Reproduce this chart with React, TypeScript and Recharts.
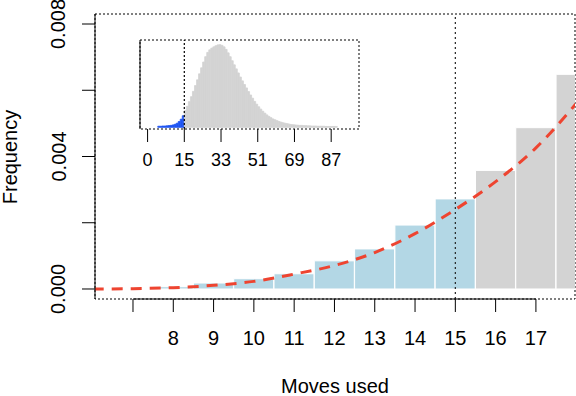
import React from 'react';
import {
  ComposedChart,
  Bar,
  Line,
  XAxis,
  YAxis,
  ReferenceLine,
  ReferenceArea,
  Cell,
} from 'recharts';

// ---- main plot: frequency of each number of moves (zoomed on the left tail)
const moves = [6, 7, 8, 9, 10, 11, 12, 13, 14, 15, 16, 17, 18];
const observedFreq = [0, 0, 0.00007, 0.00018, 0.00031, 0.00046, 0.00085, 0.00121, 0.00193, 0.00272, 0.00358, 0.00487, 0.00648];
const fittedFreq = [0, 0.00001, 0.00004, 0.00011, 0.00023, 0.00045, 0.00071, 0.0011, 0.00167, 0.0024, 0.00324, 0.00426, 0.0056];
const xTicks = [7, 8, 9, 10, 11, 12, 13, 14, 15, 16, 17];
const xTickLabels = ['', '8', '9', '10', '11', '12', '13', '14', '15', '16', '17'];
const yTicks = [0, 0.002, 0.004, 0.006, 0.008];
const yTickLabels = ['0.000', '', '0.004', '', '0.008'];
const cutoff = 15;

// ---- inset: whole distribution, one bin per move count (bins start at 2)
const insetFirstBin = 2;
const insetFreq = [
  0.0005, 0.0005, 0.0006, 0.0006, 0.0007, 0.0008, 0.0009, 0.0011, // 2-9
  0.0014, 0.0019, 0.0027, 0.0038, 0.0054, // 10-14
  0.0078, 0.0098, 0.012, 0.0143, 0.0168, 0.0195, 0.0222, 0.025, 0.0278, 0.0305, // 15-24
  0.033, 0.035, 0.0362, 0.037, 0.0376, 0.0381, 0.0385, 0.0386, 0.0383, 0.0376, // 25-34
  0.0364, 0.0348, 0.033, 0.0311, 0.0292, 0.0273, 0.0254, 0.0235, 0.0217, 0.02, // 35-44
  0.0184, 0.0167, 0.0151, 0.0136, 0.0121, 0.0108, 0.0096, 0.0085, 0.0075, 0.0066, // 45-54
  0.0058, 0.0051, 0.0045, 0.0039, 0.0035, 0.0031, 0.0027, 0.0024, 0.0021, 0.0019, // 55-64
  0.0017, 0.0015, 0.0013, 0.0012, 0.0011, 0.001, 0.0009, 0.0009, 0.0008, 0.0008, // 65-74
  0.0007, 0.0007, 0.0006, 0.0006, 0.0006, 0.0005, 0.0005, 0.0005, 0.0005, 0.0004, // 75-84
  0.0004, 0.0004, 0.0004, 0.0004, 0.0004, // 85-89
];
const insetTickPos = [-3, 15, 33, 51, 69, 87];
const insetTickLabels = ['0', '15', '33', '51', '69', '87'];
const insetYTicks = [0, 0.01, 0.02, 0.03, 0.04];

// domains (R style, a bit of room around the data)
const xMin = 6.057;
const xMax = 17.97;
const yMin = -0.000302;
const yMax = 0.008302;
const insetXMin = -6.72;
const insetXMax = 100.64;
const insetYMin = -0.00079;
const insetYMax = 0.0408;

const FONT = '"Liberation Sans", Arial, Helvetica, sans-serif';
const LIGHT_BLUE = '#B3D7E5';
const LIGHT_GRAY = '#D3D3D3';
const BLUE = '#1F55F2';
const RED = '#EE4430';

const mainData = moves.map((m, i) => ({ moves: m, observed: observedFreq[i], fitted: fittedFreq[i] }));
const insetData = insetFreq.map((f, i) => ({
  lower: insetFirstBin + i,
  mid: insetFirstBin + i + 0.5,
  freq: f,
}));

const MainXTick = ({ x, payload }: any) => {
  const idx = xTicks.indexOf(payload.value);
  const label = idx >= 0 ? xTickLabels[idx] : '';
  if (!label) return null;
  return (
    <text x={x} y={345} textAnchor="middle" fontSize={20} fontFamily={FONT} fill="#000">
      {label}
    </text>
  );
};

const MainYTick = ({ y, payload }: any) => {
  const idx = yTicks.indexOf(payload.value);
  const label = idx >= 0 ? yTickLabels[idx] : '';
  if (!label) return null;
  return (
    <text
      x={65.5}
      y={y}
      transform={`rotate(-90, 65.5, ${y})`}
      textAnchor="middle"
      fontSize={20}
      fontFamily={FONT}
      fill="#000"
    >
      {label}
    </text>
  );
};

const InsetXTick = ({ x, payload }: any) => {
  const idx = insetTickPos.indexOf(payload.value);
  return (
    <text x={x} y={166} textAnchor="middle" fontSize={18} fontFamily={FONT} fill="#000">
      {idx >= 0 ? insetTickLabels[idx] : ''}
    </text>
  );
};

const MainChart = () => (
  <ComposedChart width={576} height={396} data={mainData} margin={{ top: 14, right: 1, bottom: 0, left: 0 }}>
    <XAxis
      type="number"
      dataKey="moves"
      domain={[xMin, xMax]}
      allowDataOverflow
      ticks={xTicks}
      interval={0}
      height={97}
      tickSize={13}
      tickLine={{ stroke: '#000' }}
      axisLine={false}
      tick={<MainXTick />}
    />
    <YAxis
      type="number"
      domain={[yMin, yMax]}
      allowDataOverflow
      ticks={yTicks}
      interval={0}
      width={95}
      tickSize={13}
      tickLine={{ stroke: '#000' }}
      axisLine={{ stroke: '#000' }}
      tick={<MainYTick />}
    />
    <Bar dataKey="observed" barSize={40} stroke="#fff" strokeWidth={1} isAnimationActive={false}>
      {mainData.map((d) => (
        <Cell key={d.moves} fill={d.moves <= cutoff ? LIGHT_BLUE : LIGHT_GRAY} />
      ))}
    </Bar>
    <Line
      type="monotone"
      dataKey="fitted"
      stroke={RED}
      strokeWidth={3}
      strokeDasharray="11 8"
      dot={false}
      activeDot={false}
      isAnimationActive={false}
    />
    <ReferenceLine x={cutoff} stroke="#222" strokeWidth={1.2} strokeDasharray="2 3" />
    {/* R style x axis line, from first to last tick */}
    <ReferenceLine
      segment={[{ x: xTicks[0], y: yMin }, { x: xTicks[xTicks.length - 1], y: yMin }]}
      stroke="#000"
      ifOverflow="visible"
    />
    <ReferenceArea
      x1={xMin}
      x2={xMax}
      y1={yMin}
      y2={yMax}
      fill="none"
      fillOpacity={0}
      stroke="#000"
      strokeDasharray="2 2"
      ifOverflow="visible"
    />
  </ComposedChart>
);

const InsetChart = () => (
  <ComposedChart
    width={380}
    height={180}
    data={insetData}
    barCategoryGap={0}
    barGap={0}
    margin={{ top: 40, right: 21, bottom: 0, left: 0 }}
  >
    <XAxis
      type="number"
      dataKey="mid"
      domain={[insetXMin, insetXMax]}
      allowDataOverflow
      ticks={insetTickPos}
      interval={0}
      height={51}
      tickSize={13}
      tickLine={{ stroke: '#000' }}
      axisLine={false}
      tick={<InsetXTick />}
    />
    <YAxis
      type="number"
      domain={[insetYMin, insetYMax]}
      allowDataOverflow
      ticks={insetYTicks}
      interval={0}
      width={140}
      tickSize={13}
      tickLine={{ stroke: '#000' }}
      axisLine={{ stroke: '#000' }}
      tick={false}
    />
    <Bar dataKey="freq" isAnimationActive={false}>
      {insetData.map((d) => {
        const c = d.lower < cutoff ? BLUE : LIGHT_GRAY;
        return <Cell key={d.lower} fill={c} stroke={c} strokeWidth={0.8} />;
      })}
    </Bar>
    <ReferenceLine x={cutoff} stroke="#000" strokeWidth={1.2} strokeDasharray="2 2" />
    <ReferenceArea
      x1={insetXMin}
      x2={insetXMax}
      y1={insetYMin}
      y2={insetYMax}
      fill="none"
      fillOpacity={0}
      stroke="#000"
      strokeDasharray="2 2"
      ifOverflow="visible"
    />
  </ComposedChart>
);

export default function App() {
  return (
    <div style={{ position: 'absolute', left: 0, top: 0, width: 576, height: 396, background: '#fff' }}>
      <div style={{ position: 'absolute', left: 0, top: 0 }}>
        <MainChart />
      </div>
      <div style={{ position: 'absolute', left: 0, top: 0 }}>
        <InsetChart />
      </div>
      {/* axis titles */}
      <svg width={576} height={396} style={{ position: 'absolute', left: 0, top: 0, pointerEvents: 'none' }}>
        <text
          x={17}
          y={157}
          transform="rotate(-90, 17, 157)"
          textAnchor="middle"
          fontSize={20}
          fontFamily={FONT}
          fill="#000"
        >
          Frequency
        </text>
        <text x={335} y={393} textAnchor="middle" fontSize={20} fontFamily={FONT} fill="#000">
          Moves used
        </text>
      </svg>
    </div>
  );
}
